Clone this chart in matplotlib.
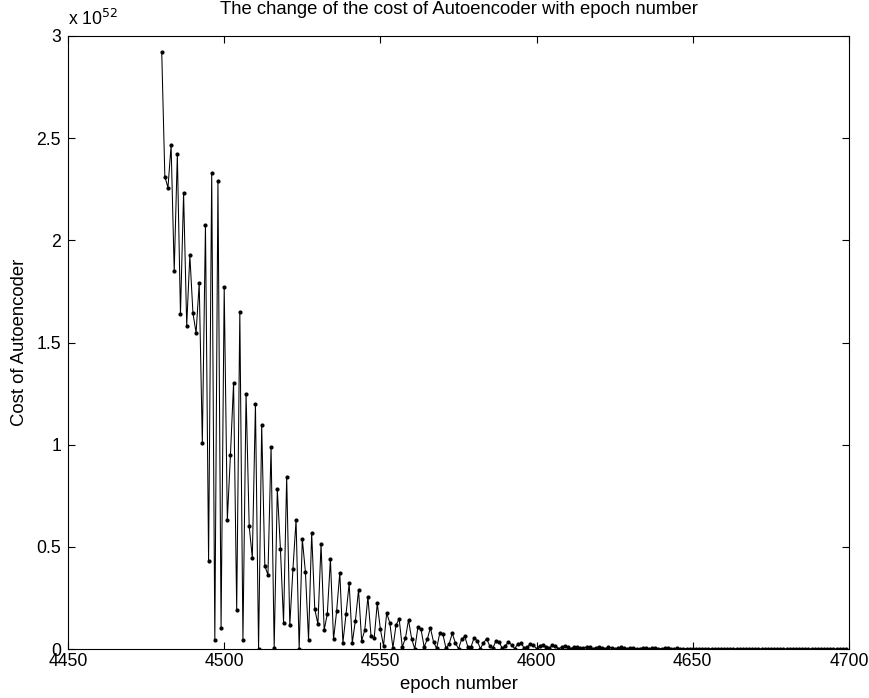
import matplotlib
matplotlib.use("Agg")
import matplotlib.pyplot as plt
from matplotlib.ticker import FuncFormatter

plt.rcParams['font.family'] = ['Liberation Sans', 'DejaVu Sans']

start_epoch = 4480
# cost values in units of 1e52, one per epoch from 4480
cost_e52 = [
    2.924, 2.312, 2.258, 2.465, 1.850, 2.421, 1.638, 2.230, 1.582, 1.927,
    1.643, 1.547, 1.790, 1.007, 2.075, 0.432, 2.331, 0.043, 2.292, 0.103,
    1.770, 0.631, 0.950, 1.303, 0.191, 1.651, 0.044, 1.250, 0.600, 0.447,
    1.200, 0.000, 1.096, 0.408, 0.362, 0.990, 0.006, 0.782, 0.489, 0.129,
    0.843, 0.116, 0.390, 0.631, 0.000, 0.538, 0.377, 0.044, 0.569, 0.194,
    0.122, 0.514, 0.093, 0.171, 0.439, 0.047, 0.187, 0.373, 0.031, 0.171,
    0.321, 0.031, 0.139, 0.289, 0.041, 0.093, 0.256, 0.064, 0.052, 0.224,
    0.096, 0.015, 0.175, 0.129, 0.006, 0.117, 0.147, 0.010, 0.052, 0.142,
    0.050, 0.000, 0.106, 0.097, 0.010, 0.047, 0.104, 0.035, 0.003, 0.077,
    0.072, 0.003, 0.025, 0.077, 0.030, 0.001, 0.048, 0.062, 0.010, 0.010,
    0.055, 0.040, 0.002, 0.030, 0.050, 0.015, 0.005, 0.040, 0.035, 0.003,
    0.015, 0.036, 0.020, 0.002, 0.025, 0.028, 0.006, 0.008, 0.026, 0.018,
    0.002, 0.014, 0.022, 0.008, 0.003, 0.018, 0.015, 0.002, 0.008, 0.016,
    0.008, 0.001, 0.011, 0.012, 0.003, 0.004, 0.011, 0.008, 0.001, 0.006,
    0.010, 0.004, 0.002, 0.008, 0.007, 0.001, 0.004, 0.008, 0.004, 0.001,
    0.006, 0.006, 0.002, 0.002, 0.005, 0.004, 0.001, 0.003, 0.004, 0.002,
    0.001, 0.003, 0.003, 0.001, 0.002, 0.003, 0.002, 0.001, 0.002, 0.002,
    0.001, 0.001, 0.002, 0.001, 0.001, 0.001, 0.002, 0.001, 0.000, 0.001,
    0.001, 0.001, 0.000, 0.001, 0.001, 0.000, 0.000, 0.001, 0.001, 0.000,
    0.000, 0.001, 0.000, 0.000, 0.000, 0.001, 0.000, 0.000, 0.000, 0.000,
    0.000, 0.000, 0.000, 0.000, 0.000, 0.000, 0.000, 0.000, 0.000, 0.000,
    0.000, 0.000, 0.000, 0.000, 0.000, 0.000, 0.000, 0.000, 0.000, 0.000,
]
epochs = list(range(start_epoch, start_epoch + len(cost_e52)))

x_ticks = [4450, 4500, 4550, 4600, 4650, 4700]
y_ticks = [0, 0.5, 1, 1.5, 2, 2.5, 3]

fig = plt.figure(figsize=(8.69, 6.98), dpi=100)
ax = fig.add_axes([68/869, 1 - 649/698, (849-68)/869, (649-36)/698])

ax.plot(epochs, cost_e52, color='black', linewidth=0.75, marker='o',
        markersize=2.0, markerfacecolor='black', markeredgecolor='black')

ax.set_xlim(4450, 4700)
ax.set_ylim(0, 3)
ax.set_xticks(x_ticks)
ax.set_yticks(y_ticks)
ax.yaxis.set_major_formatter(FuncFormatter(lambda v, p: f"{v:g}"))
ax.tick_params(direction='in', length=5, width=0.8, top=True, right=True,
               labelsize=12.7, pad=3, colors='black')
ax.tick_params(axis='y', pad=5)
for s in ax.spines.values():
    s.set_linewidth(0.8)

ax.set_title('The change of the cost of Autoencoder with epoch number',
             fontsize=13.3, pad=16)
ax.set_xlabel('epoch number', fontsize=13.3, labelpad=4)
ax.set_ylabel('Cost of Autoencoder', fontsize=13.3, labelpad=6)
ax.text(0.0, 1.012, r'x 10$^{52}$', transform=ax.transAxes, fontsize=12.7,
        ha='left', va='bottom')

fig.savefig('out.png', dpi=100)
